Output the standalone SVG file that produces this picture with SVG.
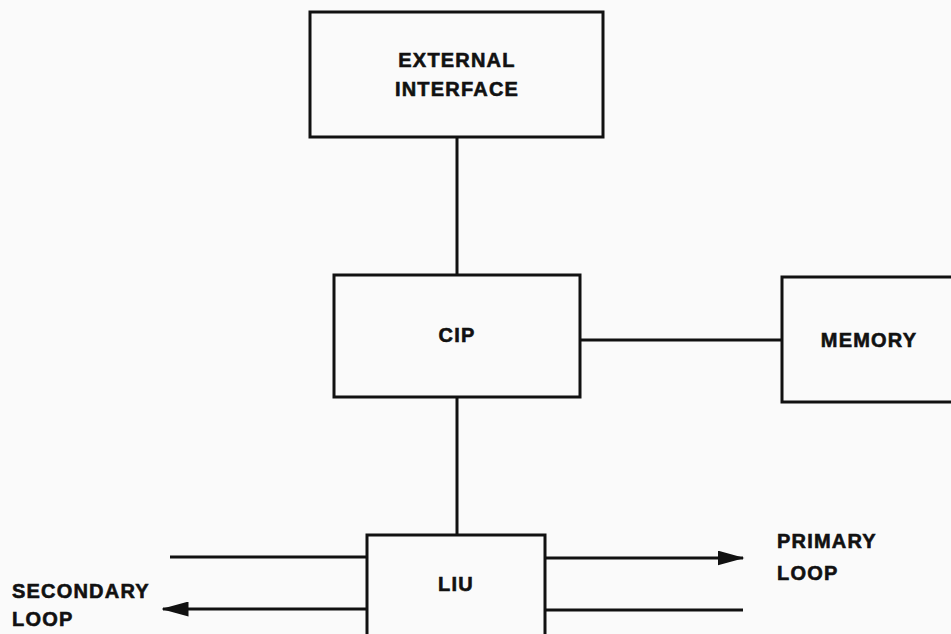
<svg xmlns="http://www.w3.org/2000/svg" width="951" height="634" viewBox="0 0 951 634">
<defs>
<style>
.box{fill:none;stroke:#111;stroke-width:3}
.ln{stroke:#111;stroke-width:3;fill:none}
.t{font-family:"Liberation Sans",Arial,sans-serif;font-weight:bold;font-size:20px;fill:#111;stroke:#111;stroke-width:0.6;letter-spacing:1.2px}
</style>
<marker id="ah" markerWidth="9" markerHeight="5" refX="8.5" refY="2.5" orient="auto" markerUnits="strokeWidth">
<path d="M0,0 L9,2.5 L0,5 Z" fill="#111"/>
</marker>
</defs>
<rect width="951" height="634" fill="#fafafa"/>
<g id="connectors">
<line class="ln" x1="457" y1="137" x2="457" y2="275"/>
<line class="ln" x1="457" y1="397" x2="457" y2="535"/>
<line class="ln" x1="580" y1="340" x2="782" y2="340"/>
<line class="ln" x1="170" y1="557" x2="367" y2="557"/>
<line class="ln" x1="367" y1="609" x2="163" y2="609" marker-end="url(#ah)"/>
<line class="ln" x1="545" y1="558" x2="743" y2="558" marker-end="url(#ah)"/>
<line class="ln" x1="545" y1="610" x2="743" y2="610"/>
</g>
<g id="external-interface">
<rect class="box" x="310" y="12" width="293" height="125"/>
<text class="t" x="457" y="67" text-anchor="middle">EXTERNAL</text>
<text class="t" x="457" y="96" text-anchor="middle">INTERFACE</text>
</g>
<g id="cip">
<rect class="box" x="334" y="275" width="246" height="122"/>
<text class="t" x="457" y="342" text-anchor="middle">CIP</text>
</g>
<g id="memory">
<rect class="box" x="782" y="277" width="180" height="125"/>
<text class="t" x="869" y="347" text-anchor="middle">MEMORY</text>
</g>
<g id="liu">
<rect class="box" x="367" y="535" width="178" height="110"/>
<text class="t" x="456" y="591" text-anchor="middle">LIU</text>
</g>
<g id="labels">
<text class="t" x="12" y="598">SECONDARY</text>
<text class="t" x="12" y="626">LOOP</text>
<text class="t" x="777" y="548">PRIMARY</text>
<text class="t" x="777" y="580">LOOP</text>
</g>
</svg>
